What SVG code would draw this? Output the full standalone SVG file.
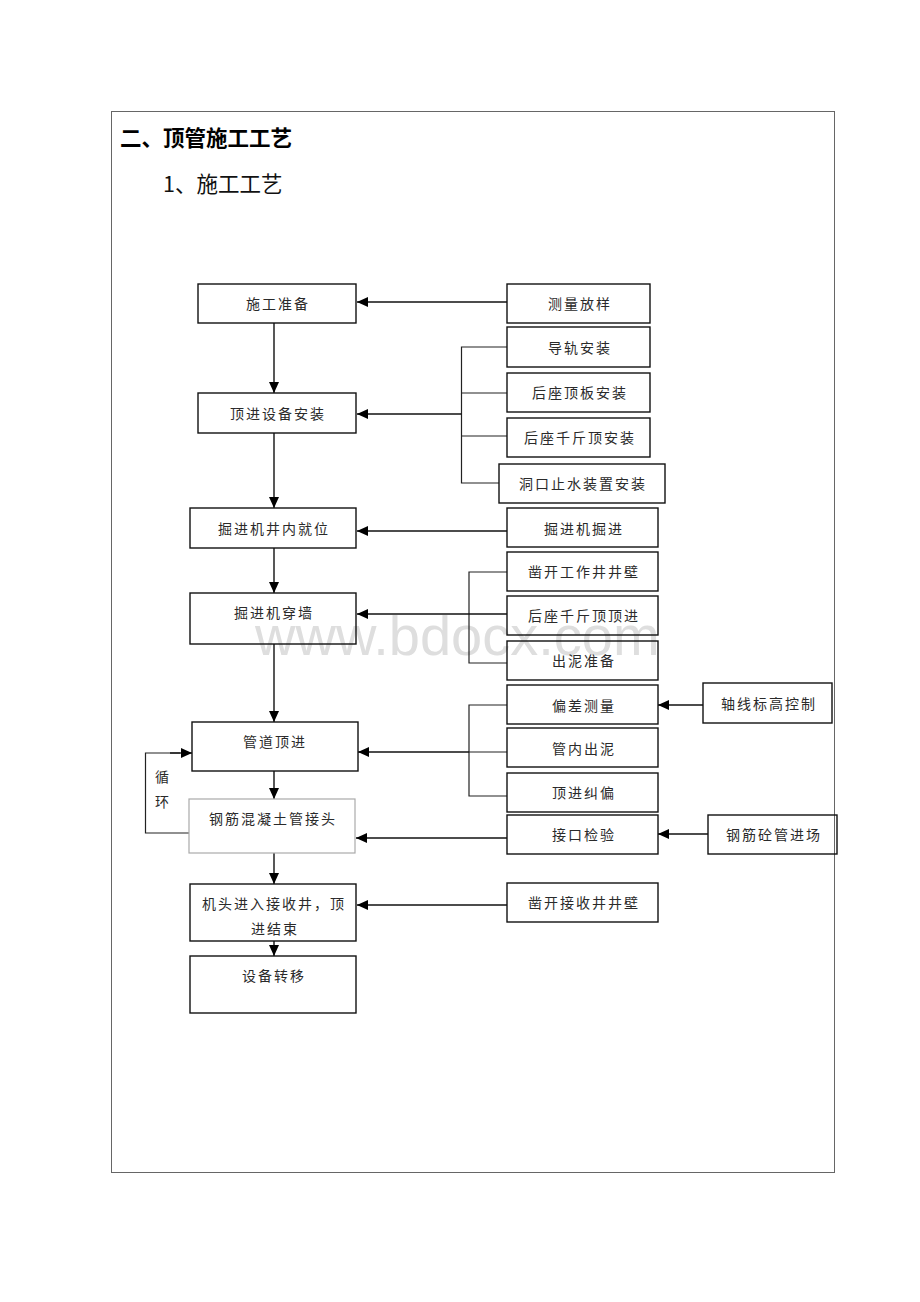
<svg xmlns="http://www.w3.org/2000/svg" width="920" height="1302" viewBox="0 0 920 1302">
<style>
.bg{fill:#ffffff}
.frame{fill:none;stroke:#666;stroke-width:1}
.box{fill:none;stroke:#111;stroke-width:1.4}
.box2{fill:none;stroke:#aaa;stroke-width:1.2}
.t{font-family:"Noto Sans CJK SC","Noto Sans",sans-serif;font-size:14px;letter-spacing:2px;fill:#2a2a2a;text-anchor:middle}
.h1{font-family:"Noto Sans CJK SC","Noto Sans",sans-serif;font-size:21.5px;font-weight:bold;fill:#000}
.h2{font-family:"Noto Sans CJK SC","Noto Sans",sans-serif;font-size:21.5px;fill:#111}
.ln{fill:none;stroke:#111;stroke-width:1.4}
.ln2{fill:none;stroke:#222;stroke-width:1.2}
.wm{font-family:"Liberation Sans",Arial,sans-serif;font-size:56px;fill:#dedede}
</style>
<defs>
<marker id="ah" markerUnits="userSpaceOnUse" markerWidth="12" markerHeight="10" refX="11" refY="5" orient="auto">
<path d="M0,0 L11,5 L0,10 Z" fill="#000"/>
</marker>
</defs>
<rect class="bg" x="0" y="0" width="920" height="1302"/>
<text class="wm" x="255" y="655">www.bdocx.com</text>
<rect class="frame" x="111.5" y="111.5" width="723" height="1061"/>
<text class="h1" x="120" y="146">二、顶管施工工艺</text>
<text class="h2" x="163" y="192">1、施工工艺</text>

<g id="connectors">
<line class="ln" x1="507" y1="302" x2="357" y2="302" marker-end="url(#ah)"/>
<line class="ln" x1="274" y1="323" x2="274" y2="393" marker-end="url(#ah)"/>
<path class="ln2" d="M507,347 H461.5 V483 H499 M461.5,393 H507 M461.5,436 H507"/>
<line class="ln" x1="461.5" y1="414" x2="357" y2="414" marker-end="url(#ah)"/>
<line class="ln" x1="274" y1="433" x2="274" y2="508" marker-end="url(#ah)"/>
<line class="ln" x1="507" y1="531" x2="357" y2="531" marker-end="url(#ah)"/>
<line class="ln" x1="274" y1="548" x2="274" y2="593" marker-end="url(#ah)"/>
<path class="ln2" d="M507,572 H469 V663 H507"/>
<line class="ln" x1="507" y1="614" x2="357" y2="614" marker-end="url(#ah)"/>
<line class="ln" x1="274" y1="644" x2="274" y2="722" marker-end="url(#ah)"/>
<path class="ln2" d="M507,705 H469 V796 H507 M469,752 H507"/>
<line class="ln" x1="469" y1="752" x2="358" y2="752" marker-end="url(#ah)"/>
<line class="ln" x1="703" y1="705" x2="658" y2="705" marker-end="url(#ah)"/>
<line class="ln" x1="274" y1="771" x2="274" y2="799" marker-end="url(#ah)"/>
<line class="ln" x1="507" y1="838" x2="356" y2="838" marker-end="url(#ah)"/>
<line class="ln" x1="708" y1="834" x2="658" y2="834" marker-end="url(#ah)"/>
<path class="ln2" d="M189,833 H145.5 V753 H180"/>
<line class="ln" x1="170" y1="753" x2="192" y2="753" marker-end="url(#ah)"/>
<line class="ln" x1="274" y1="853" x2="274" y2="884" marker-end="url(#ah)"/>
<line class="ln" x1="507" y1="905" x2="357" y2="905" marker-end="url(#ah)"/>
<line class="ln" x1="274" y1="941" x2="274" y2="956" marker-end="url(#ah)"/>
</g>

<g id="loop-label">
<text class="t" x="162" y="782" style="text-anchor:middle;letter-spacing:0">循</text>
<text class="t" x="162" y="807" style="text-anchor:middle;letter-spacing:0">环</text>
</g>

<g id="n1"><rect class="box" x="198" y="284" width="158" height="39"/><text class="t" x="278" y="309">施工准备</text></g>
<g id="n2"><rect class="box" x="198" y="393" width="158" height="40"/><text class="t" x="278" y="419">顶进设备安装</text></g>
<g id="n3"><rect class="box" x="190" y="508" width="166" height="40"/><text class="t" x="274" y="534">掘进机井内就位</text></g>
<g id="n4"><rect class="box" x="190" y="593" width="166" height="51"/><text class="t" x="274" y="618">掘进机穿墙</text></g>
<g id="n5"><rect class="box" x="192" y="722" width="166" height="49"/><text class="t" x="275" y="747">管道顶进</text></g>
<g id="n6"><rect class="box2" x="189" y="799" width="166" height="54"/><text class="t" x="273" y="824">钢筋混凝土管接头</text></g>
<g id="n7"><rect class="box" x="190" y="884" width="166" height="57"/><text class="t" x="274" y="909">机头进入接收井，顶</text><text class="t" x="275" y="934">进结束</text></g>
<g id="n8"><rect class="box" x="190" y="956" width="166" height="57"/><text class="t" x="274" y="981">设备转移</text></g>

<g id="r1"><rect class="box" x="507" y="284" width="143" height="39"/><text class="t" x="580" y="309">测量放样</text></g>
<g id="r2"><rect class="box" x="507" y="327" width="143" height="40"/><text class="t" x="580" y="353">导轨安装</text></g>
<g id="r3"><rect class="box" x="507" y="373" width="143" height="39"/><text class="t" x="580" y="398">后座顶板安装</text></g>
<g id="r4"><rect class="box" x="507" y="418" width="143" height="39"/><text class="t" x="580" y="443">后座千斤顶安装</text></g>
<g id="r5"><rect class="box" x="499" y="464" width="166" height="39"/><text class="t" x="583" y="489">洞口止水装置安装</text></g>
<g id="r6"><rect class="box" x="507" y="508" width="151" height="39"/><text class="t" x="584" y="534">掘进机掘进</text></g>
<g id="r7"><rect class="box" x="507" y="552" width="151" height="39"/><text class="t" x="584" y="577">凿开工作井井壁</text></g>
<g id="r8"><rect class="box" x="507" y="596" width="151" height="39"/><text class="t" x="584" y="621">后座千斤顶顶进</text></g>
<g id="r9"><rect class="box" x="507" y="641" width="151" height="39"/><text class="t" x="584" y="666">出泥准备</text></g>
<g id="r10"><rect class="box" x="507" y="685" width="151" height="39"/><text class="t" x="584" y="711">偏差测量</text></g>
<g id="r11"><rect class="box" x="507" y="728" width="151" height="39"/><text class="t" x="584" y="754">管内出泥</text></g>
<g id="r12"><rect class="box" x="507" y="773" width="151" height="39"/><text class="t" x="584" y="798">顶进纠偏</text></g>
<g id="r13"><rect class="box" x="507" y="815" width="151" height="39"/><text class="t" x="584" y="840">接口检验</text></g>
<g id="r14"><rect class="box" x="507" y="883" width="151" height="39"/><text class="t" x="584" y="908">凿开接收井井壁</text></g>
<g id="x1"><rect class="box" x="703" y="683" width="129" height="40"/><text class="t" x="769" y="709">轴线标高控制</text></g>
<g id="x2"><rect class="box" x="708" y="815" width="129" height="39"/><text class="t" x="774" y="840">钢筋砼管进场</text></g>
</svg>
